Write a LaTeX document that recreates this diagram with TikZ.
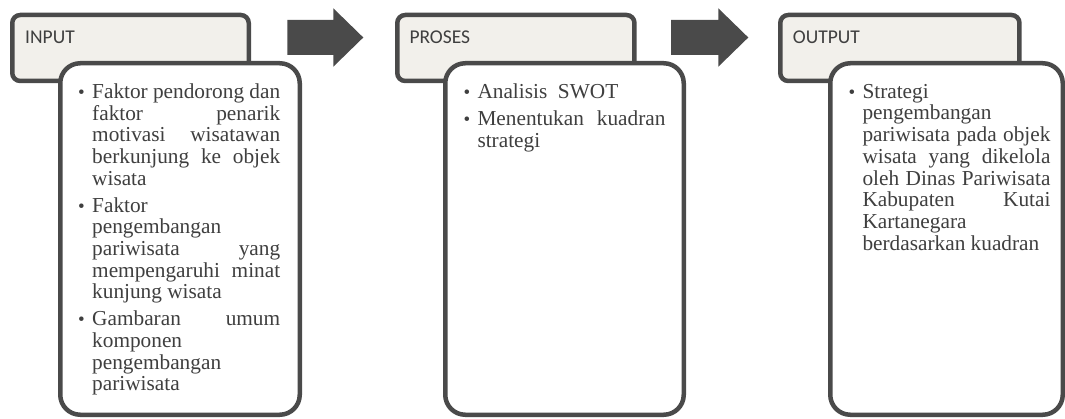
\documentclass[tikz,border=0pt]{standalone}
\usepackage{fontspec}
\newfontfamily\bodyfont{Liberation Serif}
\newfontfamily\hdrfont{Carlito}
\definecolor{bordergray}{HTML}{4A4A4A}
\definecolor{hdrfill}{HTML}{F2F0EB}
\definecolor{txtgray}{HTML}{3F3F3F}
\newlength\jw
\setlength\jw{188pt}
\newcommand\jl[1]{\makebox[\jw][s]{#1}}
\newcommand\bul{\makebox[14pt][l]{\fontsize{19}{21.7}\selectfont\textbullet}}
\newcommand\ind{\hspace*{14pt}}
\begin{document}
\begin{tikzpicture}[x=1pt,y=-1pt,
  hdr/.style={draw=bordergray, line width=4.5pt, fill=hdrfill, rounded corners=8pt, inner sep=0pt, outer sep=0pt},
  cbox/.style={draw=bordergray, line width=4.5pt, fill=white, rounded corners=20pt, inner sep=0pt, outer sep=0pt},
  hlabel/.style={anchor=base west, inner sep=0pt, text=txtgray, font=\hdrfont\fontsize{19.5}{23}\selectfont},
  btext/.style={anchor=base west, inner sep=0pt, text=txtgray, font=\bodyfont\fontsize{21.3}{21.7}\selectfont},
  blockarrow/.style={fill=bordergray, draw=none}
]
\useasboundingbox (0,0) rectangle (1065,419);

% block arrows
\fill[blockarrow] (287.3,20) -- (333.3,20) -- (333.3,8.3) -- (363.3,37.5) -- (333.3,66.7) -- (333.3,55) -- (287.3,55) -- cycle;
\fill[blockarrow] (671,20) -- (718.3,20) -- (718.3,8.3) -- (748.3,37.5) -- (718.3,66.7) -- (718.3,55) -- (671,55) -- cycle;

% INPUT
\node[hdr, minimum width=236.5pt, minimum height=66pt] (inh) at (130.5,48) {};
\node[hlabel] (inl) at (25,43.3) {INPUT};
\node[cbox, minimum width=239.5pt, minimum height=351.5pt] (inc) at (180,239) {};
\node[btext] (inb) at (78,98.5) {\parbox[t]{215pt}{%
\bul\jl{Faktor pendorong dan}\\
\ind\jl{faktor penarik}\\
\ind\jl{motivasi wisatawan}\\
\ind\jl{berkunjung ke objek}\\
\ind wisata\\[5.2pt]
\bul Faktor\\
\ind pengembangan\\
\ind\jl{pariwisata yang}\\
\ind\jl{mempengaruhi minat}\\
\ind kunjung wisata\\[5.2pt]
\bul\jl{Gambaran umum}\\
\ind komponen\\
\ind pengembangan\\
\ind pariwisata}};

% PROSES
\node[hdr, minimum width=237.2pt, minimum height=66pt] (prh) at (515.85,48) {};
\node[hlabel] (prl) at (409.3,43.3) {PROSES};
\node[cbox, minimum width=238.5pt, minimum height=351.5pt] (prc) at (564.5,239) {};
\node[btext] (prb) at (463.3,98.8) {\parbox[t]{215pt}{%
\bul Analisis\ \ SWOT\\[5.2pt]
\bul\jl{Menentukan kuadran}\\
\ind strategi}};

% OUTPUT
\node[hdr, minimum width=239.2pt, minimum height=66pt] (outh) at (899.85,48) {};
\node[hlabel] (outl) at (792.7,43.3) {OUTPUT};
\node[cbox, minimum width=232.5pt, minimum height=351.5pt] (outc) at (946.5,239) {};
\node[btext] (outb) at (848.3,98.3) {\parbox[t]{215pt}{%
\bul Strategi\\
\ind pengembangan\\
\ind\jl{pariwisata pada objek}\\
\ind\jl{wisata yang dikelola}\\
\ind\jl{oleh Dinas Pariwisata}\\
\ind\jl{Kabupaten Kutai}\\
\ind Kartanegara\\
\ind berdasarkan kuadran}};
\end{tikzpicture}
\end{document}
